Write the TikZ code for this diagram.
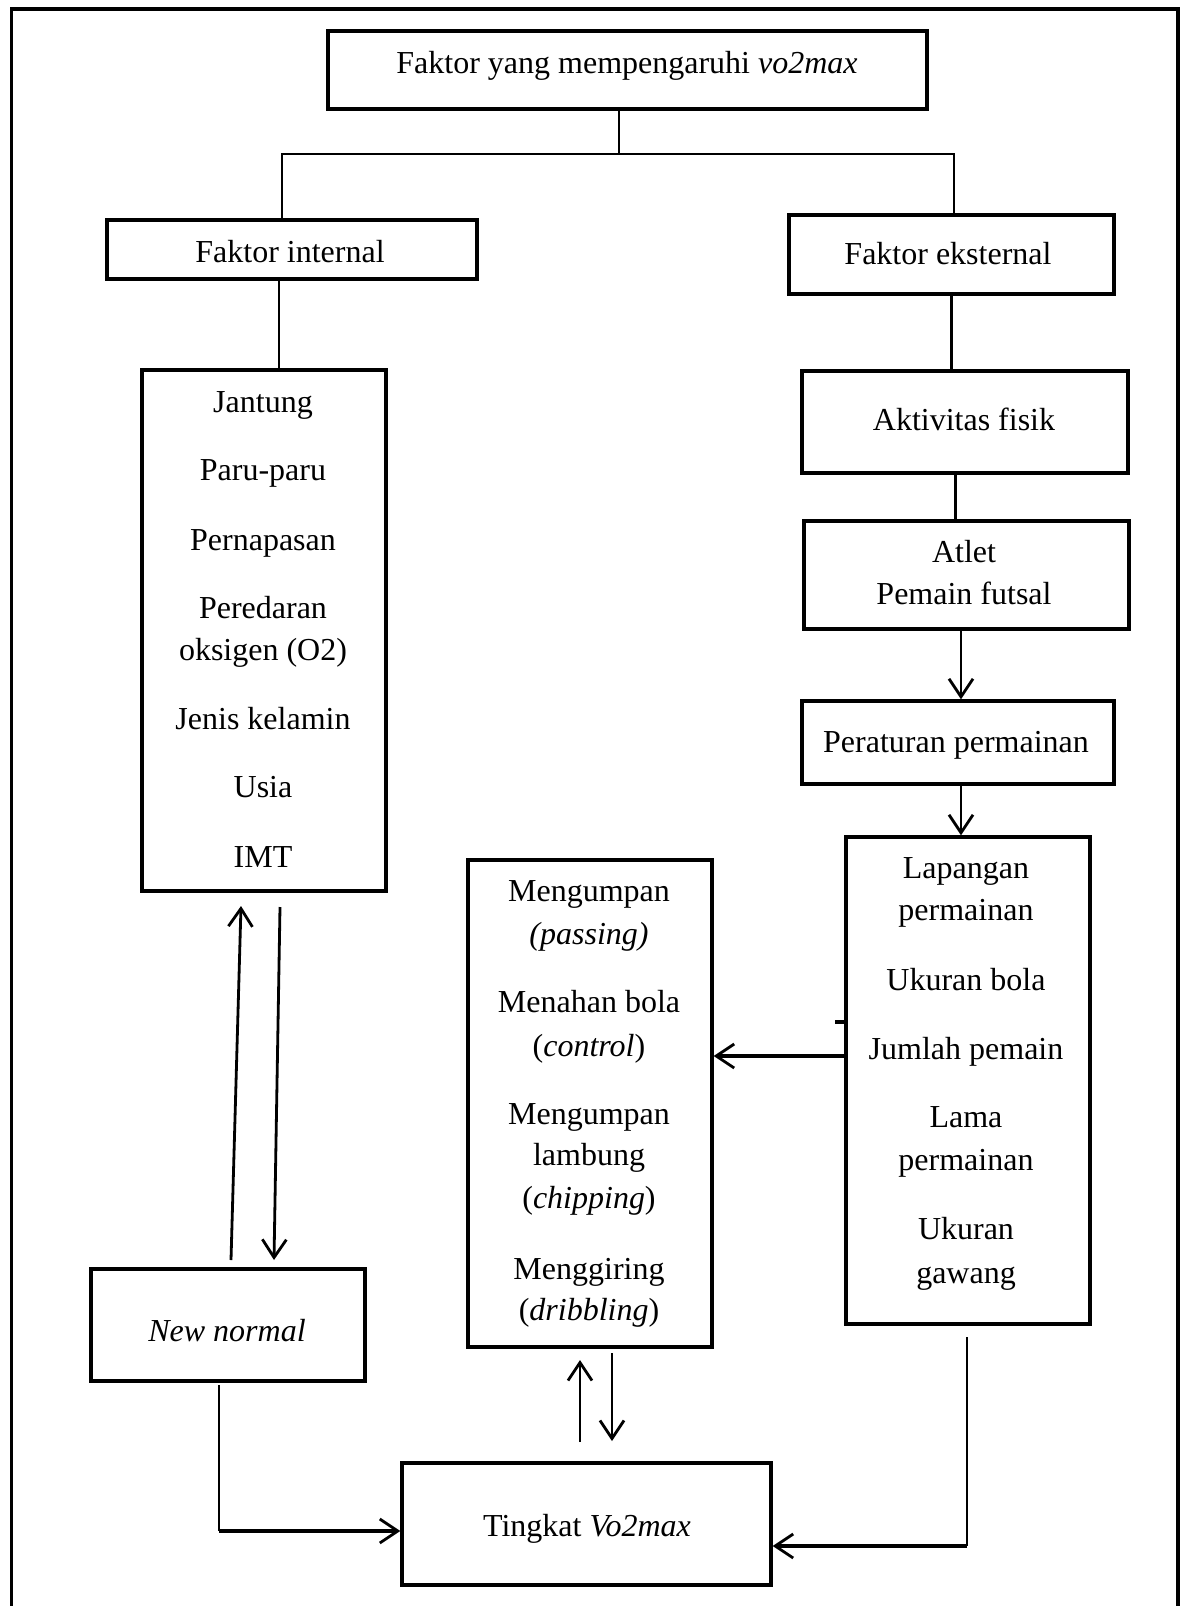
\documentclass[tikz,border=0pt]{standalone}
\usepackage{fontspec}
\setmainfont{Liberation Serif}
\usetikzlibrary{arrows.meta}
\begin{document}
\begin{tikzpicture}[x=0.5pt,y=-0.5pt,
  bx/.style 2 args={draw, line width=1.7pt, inner sep=0pt, minimum width=#1, minimum height=#2},
  txt/.style={anchor=base, inner sep=0pt, font=\fontsize{16pt}{21pt}\selectfont},
  ln/.style={line width=1.4pt},
  hln/.style={line width=1.9pt},
  barb/.style={-{Straight Barb[length=9pt,width=12pt,line width=1.4pt]}},
]
\useasboundingbox (0,0) rectangle (1184,1606);
\fill[white] (0,0) rectangle (1184,1606);
\draw[line width=1.6pt] (11.5,1606) -- (11.5,9) -- (1178,9) -- (1178,1606);

% boxes
\node[bx={299.5pt}{39pt}] (top) at (627.5,70) {};
\node[bx={185pt}{29.5pt}] (int) at (292,249.5) {};
\node[bx={162.5pt}{39.5pt}] (ext) at (951.5,254.5) {};
\node[bx={122pt}{260.5pt}] (jan) at (264,630.5) {};
\node[bx={163pt}{51pt}] (akt) at (965,422) {};
\node[bx={162.5pt}{54pt}] (atl) at (966.5,575) {};
\node[bx={156pt}{41.5pt}] (per) at (958,742.5) {};
\node[bx={122pt}{243.5pt}] (lap) at (968,1080.5) {};
\node[bx={122pt}{243.5pt}] (sk) at (590,1103.5) {};
\node[bx={137pt}{56pt}] (nn) at (228,1325) {};
\node[bx={184.5pt}{61pt}] (tk) at (586.5,1524) {};

% texts
\node[txt] (tTop) at (627,73) {Faktor yang mempengaruhi \textit{vo2max}};
\node[txt] (tInt) at (290,262) {Faktor internal};
\node[txt] (tExt) at (948,264) {Faktor eksternal};

\node[txt] (j1) at (263,412) {Jantung};
\node[txt] (j2) at (263,480) {Paru-paru};
\node[txt] (j3) at (263,550) {Pernapasan};
\node[txt] (j4) at (263,618) {Peredaran};
\node[txt] (j5) at (263,660) {oksigen (O2)};
\node[txt] (j6) at (263,729) {Jenis kelamin};
\node[txt] (j7) at (263,797) {Usia};
\node[txt] (j8) at (263,867) {IMT};

\node[txt] (tAkt) at (964,430) {Aktivitas fisik};
\node[txt] (tAtl1) at (964,562) {Atlet};
\node[txt] (tAtl2) at (964,604) {Pemain futsal};
\node[txt] (tPer) at (956,752) {Peraturan permainan};

\node[txt] (l1) at (966,878) {Lapangan};
\node[txt] (l2) at (966,920) {permainan};
\node[txt] (l3) at (966,990) {Ukuran bola};
\node[txt] (l4) at (966,1059) {Jumlah pemain};
\node[txt] (l5) at (966,1127) {Lama};
\node[txt] (l6) at (966,1170) {permainan};
\node[txt] (l7) at (966,1239) {Ukuran};
\node[txt] (l8) at (966,1283) {gawang};

\node[txt] (s1) at (589,901) {Mengumpan};
\node[txt] (s2) at (589,944) {\textit{(passing)}};
\node[txt] (s3) at (589,1012) {Menahan bola};
\node[txt] (s4) at (589,1056) {(\textit{control})};
\node[txt] (s5) at (589,1124) {Mengumpan};
\node[txt] (s6) at (589,1165) {lambung};
\node[txt] (s7) at (589,1208) {(\textit{chipping})};
\node[txt] (s8) at (589,1279) {Menggiring};
\node[txt] (s9) at (589,1320) {(\textit{dribbling})};

\node[txt] (tNN) at (227,1341) {\textit{New normal}};
\node[txt] (tTk) at (587,1536) {Tingkat \textit{Vo2max}};

% connectors
\coordinate (hM) at (619,154);
\coordinate (hL) at (282,154);
\coordinate (hR) at (954,154);
\draw[ln] (top.south -| hM) -- (hM);
\draw[ln] (int.north -| hL) |- (hR) -- (ext.north -| hR);

\coordinate (c1) at (279,0);
\draw[ln] (int.south -| c1) -- (jan.north -| c1);
\coordinate (c2) at (951.5,0);
\draw[ln] (ext.south -| c2) -- (akt.north -| c2);
\coordinate (c3) at (955.5,0);
\draw[ln] (akt.south -| c3) -- (atl.north -| c3);
\coordinate (c4) at (961,0);
\draw[ln,barb] (atl.south -| c4) -- (per.north -| c4);
\draw[ln,barb] (per.south -| c4) -- (lap.north -| c4);

\coordinate (c5) at (0,1056);
\draw[hln,barb] (lap.west |- c5) -- (sk.east |- c5);
\coordinate (tick) at (835,1022);
\draw[line width=1.6pt] (tick) -- (lap.west |- tick);

\coordinate (a1) at (231,1260);
\coordinate (a2) at (241,906);
\coordinate (a3) at (280,907);
\coordinate (a4) at (274,1260);
\draw[ln,barb] (a1) -- (a2);
\draw[ln,barb] (a3) -- (a4);

\coordinate (b1) at (219,1385);
\coordinate (b2) at (219,1531);
\draw[ln] (b1) -- (b2);
\draw[hln,barb] (b2) -- (tk.west |- b2);

\coordinate (d1) at (580,1442);
\coordinate (d2) at (580,1360);
\coordinate (d3) at (612,1353);
\coordinate (d4) at (612,1441);
\draw[ln,barb] (d1) -- (d2);
\draw[ln,barb] (d3) -- (d4);

\coordinate (e1) at (967,1337);
\coordinate (e2) at (967,1546);
\draw[ln] (e1) -- (e2);
\draw[hln,barb] (e2) -- (tk.east |- e2);
\end{tikzpicture}
\end{document}
